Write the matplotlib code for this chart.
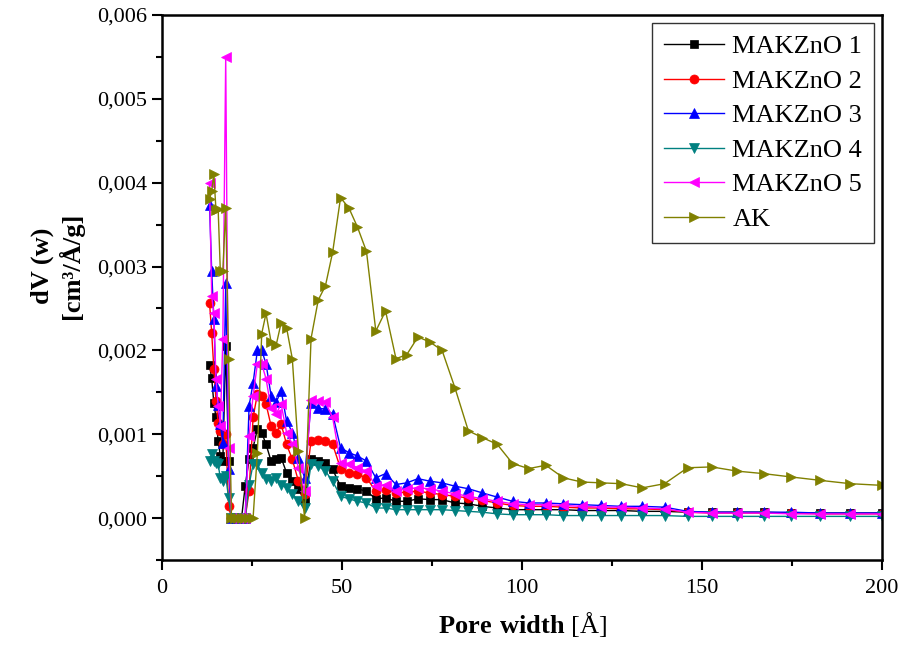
import matplotlib
matplotlib.use('Agg')
import matplotlib.pyplot as plt
from matplotlib.ticker import MultipleLocator, FuncFormatter

plt.rcParams['font.family'] = ['Liberation Serif', 'DejaVu Serif']
plt.rcParams['mathtext.fontset'] = 'custom'
plt.rcParams['mathtext.rm'] = 'Liberation Serif'
plt.rcParams['mathtext.bf'] = 'Liberation Serif:bold'

# pore width grid (A) shared by all samples
pore_w = [13.2, 13.8, 14.4, 15.0, 15.6, 16.2, 16.9, 17.7, 18.5, 19.3,
          20.2, 21.1, 22.1, 23.1, 24.2, 25.3, 26.5, 27.7, 28.9, 30.3,
          31.7, 33.1, 34.6, 36.2, 37.9, 39.6, 41.4, 43.4, 45.4, 47.4,
          49.6, 51.9, 54.3, 56.8, 59.4, 62.1, 65.0, 68.0, 71.1, 74.4,
          77.8, 81.4, 85.1, 89.0, 93.1, 97.4, 101.9, 106.6, 111.5, 116.6,
          122.0, 127.6, 133.4, 139.6, 146.0, 152.7, 159.7, 167.1, 174.8, 182.8,
          191.2, 200.0]

makzno1 = [0.00182, 0.00167, 0.00137, 0.00120, 0.00092, 0.00074, 0.00068, 0.00205, 0.00068, 0.0,
           0.0, 0.0, 0.0, 0.00038, 0.00070, 0.00084, 0.00106, 0.00102, 0.00088, 0.00068,
           0.00070, 0.00072, 0.00054, 0.00044, 0.00035, 0.00020, 0.00070, 0.00068, 0.00066, 0.00058,
           0.00038, 0.00036, 0.00035, 0.00032, 0.00023, 0.00024, 0.00020, 0.00020, 0.00023, 0.00022,
           0.00022, 0.00018, 0.00017, 0.00014, 0.00012, 0.00010, 0.00010, 0.00010, 0.00010, 0.00009,
           0.00009, 0.00009, 0.00008, 0.00008, 0.00007, 0.00007, 0.00007, 0.00007, 0.00006, 0.00006,
           0.00006, 0.00006]

makzno2 = [0.00257, 0.00221, 0.00178, 0.00140, 0.00113, 0.00104, 0.00088, 0.00100, 0.00014, 0.0,
           0.0, 0.0, 0.0, 0.0, 0.00032, 0.00120, 0.00148, 0.00146, 0.00136, 0.00110,
           0.00102, 0.00112, 0.00088, 0.00070, 0.00044, 0.00029, 0.00092, 0.00093, 0.00092, 0.00088,
           0.00059, 0.00054, 0.00052, 0.00048, 0.00032, 0.00034, 0.00030, 0.00031, 0.00032, 0.00030,
           0.00028, 0.00026, 0.00024, 0.00021, 0.00018, 0.00015, 0.00014, 0.00014, 0.00013, 0.00012,
           0.00012, 0.00011, 0.00011, 0.00010, 0.00007, 0.00006, 0.00006, 0.00006, 0.00006, 0.00005,
           0.00005, 0.00005]

makzno3 = [0.00373, 0.00295, 0.00238, 0.00158, 0.00135, 0.00112, 0.00090, 0.00280, 0.00058, 0.0,
           0.0, 0.0, 0.0, 0.0, 0.00134, 0.00161, 0.00200, 0.00200, 0.00184, 0.00146,
           0.00138, 0.00152, 0.00116, 0.00102, 0.00072, 0.00048, 0.00137, 0.00131, 0.00130, 0.00124,
           0.00084, 0.00078, 0.00074, 0.00068, 0.00048, 0.00053, 0.00040, 0.00042, 0.00047, 0.00044,
           0.00042, 0.00038, 0.00035, 0.00030, 0.00025, 0.00020, 0.00018, 0.00018, 0.00017, 0.00016,
           0.00015, 0.00014, 0.00014, 0.00013, 0.00008, 0.00007, 0.00007, 0.00007, 0.00007, 0.00006,
           0.00006, 0.00006]

makzno4 = [0.00068, 0.00076, 0.00068, 0.00066, 0.00064, 0.00048, 0.00044, 0.00050, 0.00024, 0.0,
           0.0, 0.0, 0.0, 0.0, 0.00040, 0.00064, 0.00064, 0.00054, 0.00047, 0.00044,
           0.00048, 0.00040, 0.00036, 0.00029, 0.00020, 0.00012, 0.00064, 0.00062, 0.00056, 0.00044,
           0.00026, 0.00023, 0.00020, 0.00018, 0.00012, 0.00012, 0.00010, 0.00010, 0.00010, 0.00010,
           0.00010, 0.00009, 0.00008, 0.00007, 0.00005, 0.00004, 0.00004, 0.00004, 0.00003, 0.00003,
           0.00003, 0.00003, 0.00003, 0.00003, 0.00002, 0.00002, 0.00002, 0.00002, 0.00002, 0.00002,
           0.00002, 0.00002]

makzno5 = [0.00400, 0.00265, 0.00244, 0.00166, 0.00134, 0.00110, 0.00214, 0.00550, 0.00084, 0.0,
           0.0, 0.0, 0.0, 0.0, 0.00098, 0.00146, 0.00184, 0.00184, 0.00166, 0.00131,
           0.00124, 0.00136, 0.00102, 0.00088, 0.00060, 0.00032, 0.00141, 0.00140, 0.00138, 0.00120,
           0.00066, 0.00065, 0.00060, 0.00056, 0.00038, 0.00040, 0.00032, 0.00035, 0.00036, 0.00035,
           0.00032, 0.00029, 0.00026, 0.00023, 0.00020, 0.00017, 0.00016, 0.00016, 0.00015, 0.00014,
           0.00013, 0.00013, 0.00012, 0.00011, 0.00007, 0.00006, 0.00006, 0.00006, 0.00005, 0.00005,
           0.00005, 0.00005]

ak = [0.00380, 0.00390, 0.00410, 0.00367, 0.00368, 0.00295, 0.00295, 0.00370, 0.00190, 0.0,
      0.0, 0.0, 0.0, 0.0, 0.0, 0.0, 0.00078, 0.00220, 0.00244, 0.00210,
      0.00206, 0.00233, 0.00227, 0.00190, 0.00080, 0.0, 0.00214, 0.00260, 0.00277, 0.00317,
      0.00382, 0.00370, 0.00347, 0.00318, 0.00223, 0.00247, 0.00190, 0.00195, 0.00216, 0.00210,
      0.00200, 0.00155, 0.00104, 0.00096, 0.00088, 0.00065, 0.00059, 0.00063, 0.00048, 0.00043,
      0.00042, 0.00041, 0.00036, 0.00041, 0.00060, 0.00061, 0.00056, 0.00053, 0.00049, 0.00045,
      0.00041, 0.00039]

series = [
    ('MAKZnO 1', makzno1, 'black', 's', 5.5),
    ('MAKZnO 2', makzno2, 'red', 'o', 6.5),
    ('MAKZnO 3', makzno3, 'blue', '^', 7),
    ('MAKZnO 4', makzno4, '#008080', 'v', 7),
    ('MAKZnO 5', makzno5, 'magenta', '<', 7),
    ('AK', ak, '#808000', '>', 7),
]

fig = plt.figure(figsize=(9.02, 6.45), dpi=100)
ax = fig.add_axes([0.1796, 0.1318, 0.7982, 0.845])

for name, vals, col, mk, ms in series:
    ax.plot(pore_w, vals, color=col, marker=mk, markersize=ms, linewidth=1.0,
            markeredgewidth=0.5, label=name)

ax.set_xlim(0, 200)
ax.set_ylim(-0.0005, 0.006)
ax.xaxis.set_major_locator(MultipleLocator(50))
ax.xaxis.set_minor_locator(MultipleLocator(25))
ax.yaxis.set_major_locator(MultipleLocator(0.001))
ax.yaxis.set_minor_locator(MultipleLocator(0.0005))
ax.yaxis.set_major_formatter(FuncFormatter(lambda v, p: ('%.3f' % v).replace('.', ',')))
ax.tick_params(which='both', direction='out', width=1.5, labelsize=16)
ax.tick_params(which='major', length=7)
ax.tick_params(which='minor', length=4)
ax.tick_params(axis='x', pad=7)
for s in ax.spines.values():
    s.set_linewidth(1.8)

ax.set_xlabel(r'$\mathbf{Pore\ width}$ [Å]', fontsize=19, labelpad=8)
ax.set_ylabel('dV (w)\n[cm³/Å/g]', fontsize=19, fontweight='bold')
ax.yaxis.set_label_coords(-0.108, 0.54)

leg = ax.legend(loc='upper right', fontsize=19, frameon=True, fancybox=False,
                edgecolor='black', handlelength=2.3, handletextpad=0.3,
                borderpad=0.45, labelspacing=0.42, borderaxespad=0.3)
leg.get_frame().set_linewidth(1.0)

fig.savefig('out.png', dpi=100)
